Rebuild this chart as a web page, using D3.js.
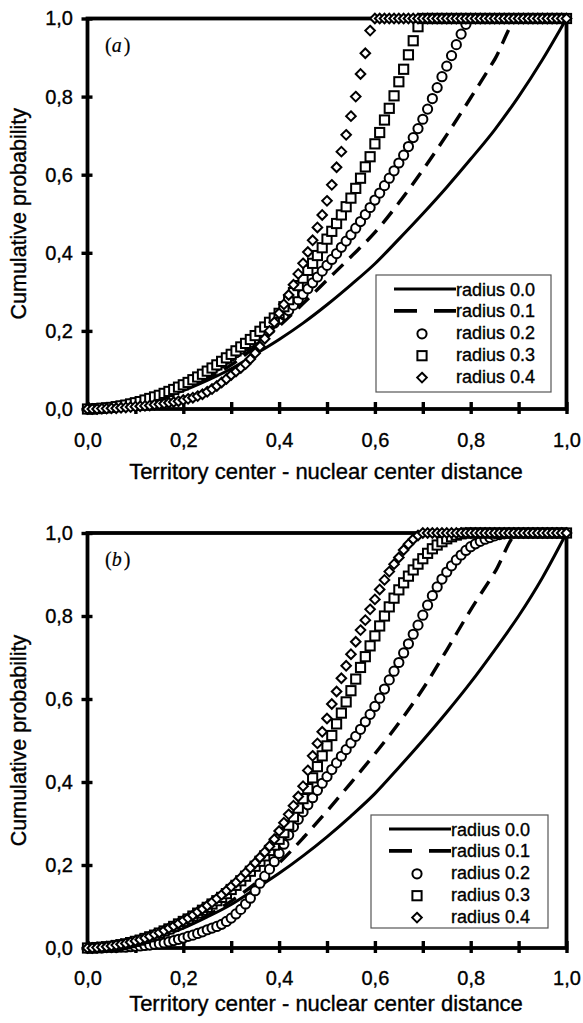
<!DOCTYPE html>
<html>
<head>
<meta charset="utf-8">
<script src="https://cdn.jsdelivr.net/npm/d3@7"></script>
<style>
  body { margin: 0; background: #fff; }
  svg { display: block; }
  text { stroke: #000; stroke-width: 0.35px; fill: #000; }
</style>
</head>
<body>
<div class="canvas"></div>
<script>
// ---- data ----
// markers are sampled every 0.01 along x
const markX = d3.range(0, 101).map(i => i / 100);
// smooth curves, read every 0.05
const lineX = [0, 0.05, 0.1, 0.15, 0.2, 0.25, 0.3, 0.35, 0.4, 0.45, 0.5,
  0.55, 0.6, 0.65, 0.7, 0.75, 0.8, 0.85, 0.9, 0.95, 1];

const xTicks = [0, 0.1, 0.2, 0.3, 0.4, 0.5, 0.6, 0.7, 0.8, 0.9, 1];
const xLabels = [0, 0.2, 0.4, 0.6, 0.8, 1];
const yTicks = [0, 0.2, 0.4, 0.6, 0.8, 1];

const seriesNames = ["radius 0.0", "radius 0.1", "radius 0.2", "radius 0.3", "radius 0.4"];

// panel (a)
const aRadius00 = [0, 0.003, 0.012, 0.027, 0.047, 0.073, 0.103, 0.140, 0.178, 0.220, 0.267,
  0.318, 0.372, 0.435, 0.500, 0.568, 0.640, 0.715, 0.800, 0.895, 1];
const aRadius01 = [0, 0.003, 0.012, 0.028, 0.050, 0.078, 0.113, 0.160, 0.212, 0.270, 0.330,
  0.390, 0.452, 0.528, 0.612, 0.702, 0.797, 0.895, 1, 1, 1];
const aRadius02 = [
  0, 0, 0.001, 0.001, 0.003, 0.004, 0.006, 0.008, 0.010, 0.013,
  0.015, 0.019, 0.022, 0.026, 0.030, 0.034, 0.039, 0.044, 0.049, 0.055,
  0.060, 0.066, 0.072, 0.080, 0.087, 0.094, 0.102, 0.110, 0.118, 0.127,
  0.135, 0.144, 0.153, 0.162, 0.171, 0.180, 0.190, 0.200, 0.210, 0.220,
  0.230, 0.241, 0.252, 0.266, 0.280, 0.294, 0.308, 0.323, 0.338, 0.353,
  0.368, 0.383, 0.398, 0.414, 0.430, 0.446, 0.463, 0.480, 0.498, 0.516,
  0.535, 0.553, 0.572, 0.591, 0.610, 0.630, 0.650, 0.672, 0.695, 0.718,
  0.742, 0.768, 0.795, 0.823, 0.851, 0.878, 0.905, 0.933, 0.960, 0.985,
  1, 1, 1, 1, 1, 1, 1, 1, 1, 1,
  1, 1, 1, 1, 1, 1, 1, 1, 1, 1,
  1];
const aRadius03 = [
  0, 0, 0.001, 0.002, 0.003, 0.004, 0.006, 0.008, 0.010, 0.013,
  0.016, 0.019, 0.023, 0.027, 0.031, 0.035, 0.040, 0.045, 0.050, 0.056,
  0.062, 0.068, 0.075, 0.082, 0.089, 0.097, 0.105, 0.113, 0.122, 0.131,
  0.140, 0.149, 0.159, 0.168, 0.178, 0.188, 0.199, 0.210, 0.222, 0.233,
  0.245, 0.262, 0.280, 0.298, 0.316, 0.335, 0.355, 0.373, 0.393, 0.413,
  0.435, 0.455, 0.475, 0.497, 0.518, 0.540, 0.565, 0.591, 0.620, 0.646,
  0.679, 0.708, 0.740, 0.770, 0.802, 0.838, 0.870, 0.907, 0.943, 0.979,
  1, 1, 1, 1, 1, 1, 1, 1, 1, 1,
  1, 1, 1, 1, 1, 1, 1, 1, 1, 1,
  1, 1, 1, 1, 1, 1, 1, 1, 1, 1,
  1];
const aRadius04 = [
  0, 0, 0, 0.001, 0.001, 0.002, 0.002, 0.003, 0.004, 0.005,
  0.006, 0.007, 0.008, 0.009, 0.011, 0.012, 0.014, 0.016, 0.018, 0.020,
  0.023, 0.026, 0.029, 0.033, 0.038, 0.044, 0.051, 0.059, 0.068, 0.077,
  0.087, 0.096, 0.105, 0.115, 0.128, 0.143, 0.160, 0.180, 0.200, 0.222,
  0.245, 0.268, 0.292, 0.318, 0.346, 0.373, 0.402, 0.432, 0.465, 0.497,
  0.533, 0.574, 0.619, 0.659, 0.702, 0.750, 0.800, 0.858, 0.911, 0.969,
  1, 1, 1, 1, 1, 1, 1, 1, 1, 1,
  1, 1, 1, 1, 1, 1, 1, 1, 1, 1,
  1, 1, 1, 1, 1, 1, 1, 1, 1, 1,
  1, 1, 1, 1, 1, 1, 1, 1, 1, 1,
  1];

// panel (b)
const bRadius00 = [0, 0.003, 0.012, 0.027, 0.048, 0.075, 0.105, 0.142, 0.180, 0.222, 0.268,
  0.318, 0.372, 0.435, 0.500, 0.568, 0.640, 0.718, 0.800, 0.893, 1];
const bRadius01 = [0, 0.003, 0.012, 0.028, 0.050, 0.078, 0.113, 0.155, 0.205, 0.265, 0.330,
  0.398, 0.468, 0.542, 0.624, 0.718, 0.815, 0.905, 1, 1, 1];
const bRadius02 = [
  0, 0, 0, 0, 0.001, 0.001, 0.001, 0.002, 0.002, 0.003,
  0.004, 0.005, 0.006, 0.007, 0.009, 0.010, 0.012, 0.015, 0.018, 0.021,
  0.024, 0.028, 0.031, 0.035, 0.039, 0.044, 0.048, 0.052, 0.057, 0.064,
  0.072, 0.082, 0.093, 0.106, 0.120, 0.138, 0.156, 0.173, 0.190, 0.208,
  0.228, 0.250, 0.272, 0.292, 0.310, 0.328, 0.345, 0.362, 0.380, 0.397,
  0.413, 0.430, 0.446, 0.462, 0.478, 0.494, 0.510, 0.527, 0.545, 0.563,
  0.582, 0.602, 0.624, 0.646, 0.667, 0.688, 0.711, 0.733, 0.756, 0.778,
  0.802, 0.826, 0.849, 0.870, 0.889, 0.906, 0.921, 0.935, 0.947, 0.958,
  0.967, 0.974, 0.980, 0.985, 0.989, 0.993, 0.996, 0.998, 1, 1,
  1, 1, 1, 1, 1, 1, 1, 1, 1, 1,
  1];
const bRadius03 = [
  0, 0, 0.001, 0.002, 0.003, 0.004, 0.006, 0.008, 0.010, 0.013,
  0.016, 0.019, 0.023, 0.027, 0.031, 0.036, 0.041, 0.046, 0.052, 0.058,
  0.064, 0.070, 0.077, 0.084, 0.091, 0.098, 0.106, 0.114, 0.122, 0.131,
  0.141, 0.151, 0.162, 0.173, 0.185, 0.197, 0.209, 0.222, 0.235, 0.248,
  0.262, 0.278, 0.296, 0.316, 0.337, 0.360, 0.384, 0.410, 0.437, 0.463,
  0.487, 0.512, 0.540, 0.566, 0.593, 0.620, 0.648, 0.676, 0.702, 0.728,
  0.752, 0.776, 0.800, 0.822, 0.843, 0.863, 0.880, 0.896, 0.911, 0.925,
  0.938, 0.951, 0.962, 0.971, 0.979, 0.986, 0.991, 0.995, 0.998, 1,
  1, 1, 1, 1, 1, 1, 1, 1, 1, 1,
  1, 1, 1, 1, 1, 1, 1, 1, 1, 1,
  1];
const bRadius04 = [
  0, 0, 0.001, 0.002, 0.003, 0.005, 0.007, 0.009, 0.011, 0.014,
  0.017, 0.020, 0.024, 0.028, 0.033, 0.037, 0.042, 0.048, 0.053, 0.059,
  0.066, 0.072, 0.079, 0.087, 0.094, 0.102, 0.110, 0.119, 0.128, 0.138,
  0.148, 0.158, 0.169, 0.181, 0.193, 0.205, 0.218, 0.231, 0.245, 0.262,
  0.282, 0.302, 0.322, 0.343, 0.365, 0.390, 0.428, 0.463, 0.493, 0.521,
  0.553, 0.588, 0.618, 0.650, 0.680, 0.708, 0.738, 0.766, 0.790, 0.816,
  0.840, 0.864, 0.887, 0.907, 0.925, 0.941, 0.959, 0.973, 0.985, 0.994,
  1, 1, 1, 1, 1, 1, 1, 1, 1, 1,
  1, 1, 1, 1, 1, 1, 1, 1, 1, 1,
  1, 1, 1, 1, 1, 1, 1, 1, 1, 1,
  1];

// ---- layout ----
const totalWidth = 583;
const totalHeight = 1023;
const plotLeft = 87.5;
const plotRight = 566.5;

const panels = [
  { tag: "a", top: 18.5, bottom: 409, xLabelDy: 38, xTitleDy: 70,
    legend: { x: 376, y: 275, w: 175, h: 117 },
    lines: [aRadius00, aRadius01], marks: [aRadius02, aRadius03, aRadius04] },
  { tag: "b", top: 533, bottom: 948, xLabelDy: 37, xTitleDy: 63,
    legend: { x: 371, y: 815, w: 177, h: 113 },
    lines: [bRadius00, bRadius01], marks: [bRadius02, bRadius03, bRadius04] }
];

const svg = d3.select(".canvas")
  .append("svg")
  .attr("width", totalWidth)
  .attr("height", totalHeight);

const fmt = d => d3.format(".1f")(d).replace(".", ",");
const sans = "'Liberation Sans', Arial, sans-serif";

// marker shapes
function drawMark(sel, kind) {
  if (kind === 0) {
    sel.append("circle").attr("r", 4.6);
  } else if (kind === 1) {
    sel.append("rect").attr("x", -4.6).attr("y", -4.6).attr("width", 9.2).attr("height", 9.2);
  } else {
    sel.append("path").attr("d", "M0,-4.8L4.8,0L0,4.8L-4.8,0Z");
  }
}

function drawPanel(p) {
  const x = d3.scaleLinear().domain([0, 1]).range([plotLeft, plotRight]);
  const y = d3.scaleLinear().domain([0, 1]).range([p.bottom, p.top]);
  const g = svg.append("g");

  // frame
  g.append("rect")
    .attr("x", x(0)).attr("y", y(1))
    .attr("width", x(1) - x(0)).attr("height", y(0) - y(1))
    .attr("fill", "none").attr("stroke", "#000").attr("stroke-width", 3.8);

  // x axis
  const xAxisGroup = g.append("g").attr("transform", `translate(0,${y(0)})`)
    .call(d3.axisBottom(x).tickValues(xTicks).tickSize(5)
      .tickFormat(d => xLabels.some(v => Math.abs(v - d) < 1e-9) ? fmt(d) : ""));
  xAxisGroup.select(".domain").remove();
  xAxisGroup.selectAll("line").attr("y1", -7).attr("stroke-width", 3.4);
  xAxisGroup.selectAll("text").attr("y", p.xLabelDy).attr("dy", null)
    .style("font-family", sans).style("font-size", "20px");

  // y axis
  const yAxisGroup = g.append("g").attr("transform", `translate(${x(0)},0)`)
    .call(d3.axisLeft(y).tickValues(yTicks).tickSize(6).tickPadding(8.5).tickFormat(fmt));
  yAxisGroup.select(".domain").remove();
  yAxisGroup.selectAll("line").attr("x1", 5).attr("stroke-width", 3.4);
  yAxisGroup.selectAll("text")
    .style("font-family", sans).style("font-size", "20px");

  // titles
  g.append("text")
    .attr("x", (x(0) + x(1)) / 2 - 1).attr("y", y(0) + p.xTitleDy)
    .attr("text-anchor", "middle")
    .style("font-family", sans).style("font-size", "22px")
    .text("Territory center - nuclear center distance");
  g.append("text")
    .attr("transform", `translate(26,${(y(0) + y(1)) / 2}) rotate(-90)`)
    .attr("text-anchor", "middle")
    .style("font-family", sans).style("font-size", "21.5px")
    .text("Cumulative probability");

  // panel tag
  const tag = g.append("text")
    .attr("x", 105).attr("y", y(1) + 33)
    .style("font-family", "'Liberation Serif', 'Times New Roman', serif")
    .style("font-size", "20px").style("stroke-width", "0.2px");
  tag.append("tspan").text("(");
  tag.append("tspan").style("font-style", "italic").text(p.tag);
  tag.append("tspan").attr("dx", 2).text(")");

  // lines
  const line = d3.line().x((d, i) => x(lineX[i])).y(d => y(d)).curve(d3.curveMonotoneX);
  g.append("path").datum(p.lines[0])
    .attr("fill", "none").attr("stroke", "#000").attr("stroke-width", 3).attr("d", line);
  g.append("path").datum(p.lines[1])
    .attr("fill", "none").attr("stroke", "#000").attr("stroke-width", 3.4)
    .attr("stroke-dasharray", "15,9").attr("d", line);

  // markers
  p.marks.forEach((vals, k) => {
    g.append("g")
      .attr("fill", "#fff").attr("stroke", "#000").attr("stroke-width", 2)
      .selectAll("g").data(vals).enter().append("g")
      .attr("transform", (d, i) => `translate(${x(markX[i])},${y(d)})`)
      .each(function () { drawMark(d3.select(this), k); });
  });

  // legend
  const L = p.legend;
  const lg = g.append("g").attr("transform", `translate(${L.x},${L.y})`);
  lg.append("rect").attr("width", L.w).attr("height", L.h)
    .attr("fill", "#fff").attr("stroke", "#555").attr("stroke-width", 1.2);
  seriesNames.forEach((name, i) => {
    const cy = 14 + i * 21.9;
    const row = lg.append("g").attr("transform", `translate(0,${cy})`);
    if (i === 0) {
      row.append("line").attr("x1", 18).attr("x2", 80).attr("stroke", "#000").attr("stroke-width", 3.2);
    } else if (i === 1) {
      row.append("line").attr("x1", 18).attr("x2", 80).attr("stroke", "#000").attr("stroke-width", 3.6)
        .attr("stroke-dasharray", "23,17");
    } else {
      const m = row.append("g").attr("transform", "translate(46,1)")
        .attr("fill", "#fff").attr("stroke", "#000").attr("stroke-width", 2);
      drawMark(m, i - 2);
    }
    row.append("text").attr("x", 80).attr("y", 6.5)
      .style("font-family", sans).style("font-size", "18px")
      .text(name);
  });
}

panels.forEach(drawPanel);
</script>
</body>
</html>
